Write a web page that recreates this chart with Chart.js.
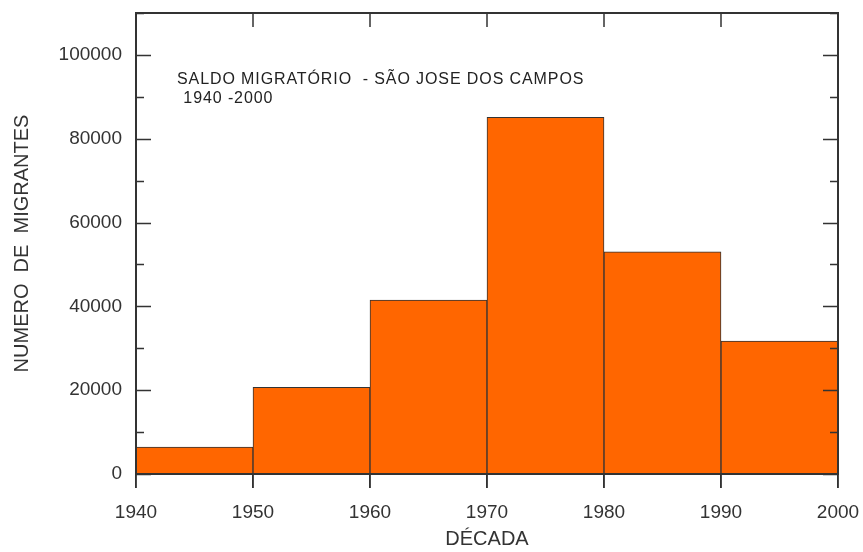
<!DOCTYPE html>
<html>
<head>
<meta charset="utf-8">
<script src="https://cdn.jsdelivr.net/npm/chart.js@4/dist/chart.umd.min.js"></script>
<style>
  body { margin:0; background:#fff; }
  #wrap { width:863px; height:552px; }
</style>
</head>
<body>
<div id="wrap"><canvas id="chart"></canvas></div>
<script>
// decade start years and migrant balance per decade
const decades = [1940, 1950, 1960, 1970, 1980, 1990];
const migrantes = [6400, 20700, 41500, 85100, 53000, 31700];
const xTicks = [1940, 1950, 1960, 1970, 1980, 1990, 2000];
const yTicks = [0, 20000, 40000, 60000, 80000, 100000];
const yMinorStep = 10000;
const yMax = 110000;

const noteLines = ['SALDO MIGRATÓRIO  - SÃO JOSE DOS CAMPOS', ' 1940 -2000'];

const FONT = 'Liberation Sans, Arial, sans-serif';

// inner ticks, frame and the note text
const frame = {
  id: 'frame',
  afterDraw(chart){
    const {ctx, chartArea:a, scales:{x, y}} = chart;
    ctx.save();
    ctx.strokeStyle = '#333';
    ctx.lineWidth = 1.5;
    ctx.beginPath();
    for(let v=0; v<=yMax; v+=yMinorStep){
      const py = Math.round(y.getPixelForValue(v)) + 0.5;
      const len = yTicks.includes(v) ? 15 : 8;
      ctx.moveTo(a.left, py); ctx.lineTo(a.left+len, py);
      ctx.moveTo(a.right, py); ctx.lineTo(a.right-len, py);
    }
    xTicks.forEach(v=>{
      const px = x.getPixelForValue(v);
      ctx.moveTo(px, a.top); ctx.lineTo(px, a.top+14);
      ctx.moveTo(px, a.bottom); ctx.lineTo(px, a.bottom+14);
    });
    ctx.stroke();
    ctx.lineWidth = 2;
    ctx.strokeRect(a.left, a.top, a.right-a.left, a.bottom-a.top);

    ctx.fillStyle = '#222';
    ctx.font = '16px ' + FONT;
    ctx.letterSpacing = '0.9px';
    ctx.textBaseline = 'middle';
    ctx.fillText(noteLines[0], a.left+41, a.top+67);
    ctx.fillText(noteLines[1], a.left+42, a.top+86);
    ctx.restore();
  }
};

new Chart(document.getElementById('chart'), {
  type: 'bar',
  data: {
    datasets: [{
      data: decades.map((d,i)=>({x: d+5, y: migrantes[i]})),
      backgroundColor: '#FF6600',
      borderColor: '#333',
      borderWidth: 1,
      barPercentage: 1,
      categoryPercentage: 1
    }]
  },
  options: {
    responsive: true,
    maintainAspectRatio: false,
    animation: false,
    layout: { padding: { top: 13, right: 25, left: 0, bottom: 0 } },
    plugins: { legend: { display:false }, tooltip: { enabled:false } },
    scales: {
      x: {
        type: 'linear',
        min: 1940, max: 2000,
        offset: false,
        afterBuildTicks: s => { s.ticks = xTicks.map(v=>({value:v})); },
        afterFit: s => { s.height = 78; s.paddingLeft = 0; s.paddingRight = 0; },
        ticks: { color:'#333', font:{ family:FONT, size:19 }, padding: 13, maxRotation:0, callback: v => String(v) },
        grid: { drawOnChartArea:false, offset:false, tickLength:14, color:'#333', lineWidth:1.5 },
        border: { color:'#333', width:2 },
        title: { display:true, text:'DÉCADA', color:'#333', font:{ family:FONT, size:20 }, padding:{ top:0, bottom:1 } }
      },
      y: {
        min: 0, max: yMax,
        afterBuildTicks: s => { s.ticks = yTicks.map(v=>({value:v})); },
        afterFit: s => { s.width = 136; s.paddingTop = 0; s.paddingBottom = 0; },
        ticks: { color:'#333', font:{ family:FONT, size:19 }, padding: 14, callback: v => String(v) },
        grid: { drawOnChartArea:false, drawTicks:false },
        border: { color:'#333', width:2 },
        title: { display:true, text:'NUMERO  DE  MIGRANTES', color:'#333', font:{ family:FONT, size:20 }, padding:{ top:10, bottom:0 } }
      }
    }
  },
  plugins: [frame]
});
</script>
</body>
</html>
